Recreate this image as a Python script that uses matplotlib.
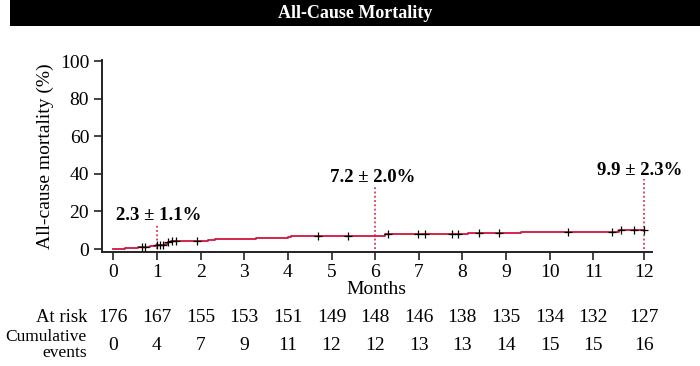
import matplotlib
matplotlib.use("Agg")
import matplotlib.pyplot as plt
import numpy as np

plt.rcParams['font.family'] = ['Liberation Serif', 'DejaVu Serif']

# ---- data (x in days; month ticks at 30-day steps, 12 months = 365 days) ----
event_days = [8, 17, 25, 29, 35.5, 37.6, 39.7, 65, 70, 98, 120, 122, 187, 244, 280, 348]
cum_mortality = [0.57, 1.14, 1.71, 2.3, 2.9, 3.5, 4.1, 4.7, 5.3, 5.9, 6.5, 7.2, 7.8, 8.5, 9.2, 9.9]
censor_days = [19.7, 21.8, 30.0, 32.1, 34.2, 37.6, 40.4, 43.1, 57.5, 140.7, 161.3, 188.8,
               209.4, 214.2, 232.8, 236.9, 251.3, 265.1, 312.6, 342.9, 349.0, 358.0, 364.9]
month_labels = ['0', '1', '2', '3', '4', '5', '6', '7', '8', '9', '10', '11', '12']
month_days = [0, 30, 60, 90, 120, 150, 180, 210, 240, 270, 300, 330, 365]
at_risk = [176, 167, 155, 153, 151, 149, 148, 146, 138, 135, 134, 132, 127]
cum_events = [0, 4, 7, 9, 11, 12, 12, 13, 13, 14, 15, 15, 16]
landmark_days = [30, 180, 365]
landmark_text = ['2.3 \u00b1 1.1%', '7.2 \u00b1 2.0%', '9.9 \u00b1 2.3%']
landmark_line_top = [13, 33, 37]
landmark_text_xy = [(31, 18), (178, 37.8), (362, 42)]

RED = '#d0163c'

fig = plt.figure(figsize=(7.0, 3.66), dpi=100)
ax = fig.add_axes([0.1453, 0.3123, 0.786, 0.5235])

# step curve
xs = [0] + event_days + [365]
ys = [0] + cum_mortality + [cum_mortality[-1]]
ax.step(xs, ys, where='post', color=RED, lw=1.3, zorder=3)

# censor marks
def level_at(d):
    lvl = 0
    for t, v in zip(event_days, cum_mortality):
        if t <= d:
            lvl = v
    return lvl
ax.plot(censor_days, [level_at(d) for d in censor_days], linestyle='none',
        marker='+', color='black', markersize=5.5, mew=0.9, zorder=4)

# landmark dotted lines and labels
for d, top, txt, (tx, ty) in zip(landmark_days, landmark_line_top, landmark_text, landmark_text_xy):
    ax.plot([d, d], [0, top], color=RED, lw=1.1, linestyle=(0, (1.2, 1.6)), zorder=2)
    ax.text(tx, ty, txt, ha='center', va='center', fontsize=13.5, fontweight='bold')

ax.set_xlim(-8, 370.3)
ax.set_ylim(-1.4, 100.5)
ax.set_xticks(month_days)
ax.set_xticklabels(month_labels)
ax.set_yticks([0, 20, 40, 60, 80, 100])
for s in ['top', 'right']:
    ax.spines[s].set_visible(False)
for s in ['left', 'bottom']:
    ax.spines[s].set_linewidth(1.4)
    ax.spines[s].set_color('#222222')
ax.tick_params(axis='both', direction='out', length=6, width=1.2, color='#222222',
               labelsize=14, pad=3)
ax.set_xlabel('Months', fontsize=14, labelpad=0)
ax.set_ylabel('All-cause mortality (%)', fontsize=14, labelpad=4)

# at-risk table
fig_h = 366.0
def fy(py):
    return 1 - py / fig_h
for d, n in zip(month_days, at_risk):
    fig.text(ax.transData.transform((d, 0))[0] / 700.0, fy(318), str(n),
             ha='center', va='center', fontsize=14)
for d, n in zip(month_days, cum_events):
    fig.text(ax.transData.transform((d, 0))[0] / 700.0, fy(345), str(n),
             ha='center', va='center', fontsize=14)
fig.text(87 / 700.0, fy(318), 'At risk', ha='right', va='center', fontsize=13.5)
fig.text(87 / 700.0, fy(345), 'Cumulative\nevents', ha='right', va='center',
         fontsize=12.5, linespacing=1.0, multialignment='right')

# title bar
bar = fig.add_axes([10 / 700.0, fy(26), 690 / 700.0, 26 / fig_h])
bar.set_facecolor('black')
bar.set_xticks([]); bar.set_yticks([])
for s in bar.spines.values():
    s.set_visible(False)
bar.text(0.5, 0.5, 'All-Cause Mortality', color='white', fontsize=13,
         fontweight='bold', ha='center', va='center', transform=bar.transAxes)

fig.savefig('out.png', dpi=100)
